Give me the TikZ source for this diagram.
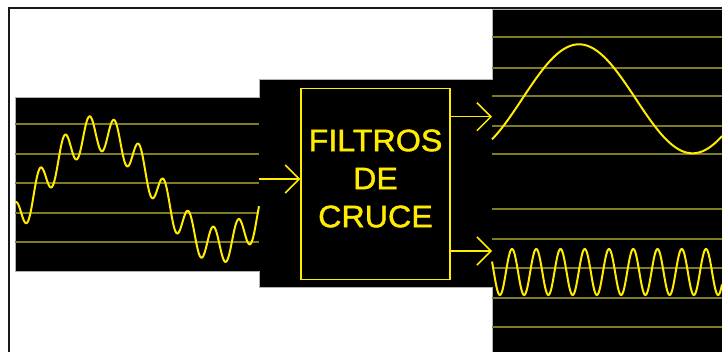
\documentclass[tikz,border=0pt]{standalone}
\usepackage{fontspec}
\setmainfont{Liberation Sans}
\newfontfamily\fuenterotulo{Liberation Sans}[FakeBold=1.3, FakeStretch=1.04]
\usetikzlibrary{arrows.meta}
\definecolor{amarillo}{RGB}{255,236,0}
\definecolor{oliva}{RGB}{128,124,36}

\begin{document}
\begin{tikzpicture}[x=1pt, y=-1pt,
  >={Straight Barb[length=14pt,width=28pt]},
  rejilla/.style={oliva, line width=2pt},
  onda/.style={amarillo, line width=2pt, line join=round},
  flecha/.style={amarillo, line width=1.5pt, ->},
  caja/.style={draw=amarillo, line width=1.5pt, inner sep=0pt,
    minimum width=149pt, minimum height=191pt},
  rotulo/.style={amarillo, align=center, inner sep=0pt,
    font=\fuenterotulo\fontsize{31}{38}\selectfont}]
  \useasboundingbox (0,0) rectangle (722,351);
  % Frame.
  \draw[line width=2pt, black!90] (9,354) -- (9,8) -- (725,8);
  % Black panels.
  \fill[black, draw=gray!60, line width=0.8pt]
    (15,97) -- (259,97) -- (259,79) -- (492,79) -- (492,9) -- (725,9)
    -- (725,354) -- (492,354) -- (492,287) -- (259,287) -- (259,271)
    -- (15,271) -- cycle;
  % Grid lines.
  \foreach \y in {124.3,154.3,182.7,213.3,241.7}
    \draw[rejilla] (15,\y) -- (259,\y);
  \foreach \y in {37.3,67.7,96,126,154.3,209.3,239.3,268.3,297.7,326.7}
    \draw[rejilla] (492,\y) -- (722,\y);
  % Input signal.
  \draw[onda] plot[domain=15:259, samples=500]
    (\x, {189 - 56*cos(1.5*(\x-98)) - 18*cos(14.516*(\x-15))});
  % Low band.
  \draw[onda] plot[domain=492:722, samples=300]
    (\x, {98.8 - 54.5*cos(1.5859*(\x-579))});
  % High band.
  \draw[onda] plot[domain=492:722, samples=500]
    (\x, {272 - 23*cos(14.845*(\x-512))});
  % Filter.
  \node[caja] (filtros) at (375.5,183.8) {};
  \node[rotulo] (texto) at (375.5,178.5) {FILTROS\\DE\\CRUCE};
  \coordinate (entrada) at (259,179);
  \coordinate (graves) at (492,116.7);
  \coordinate (agudos) at (492,251);
  \draw[flecha] (entrada) -- (entrada -| filtros.west);
  \draw[flecha] (filtros.east |- graves) -- (graves);
  \draw[flecha] (filtros.east |- agudos) -- (agudos);
\end{tikzpicture}
\end{document}
